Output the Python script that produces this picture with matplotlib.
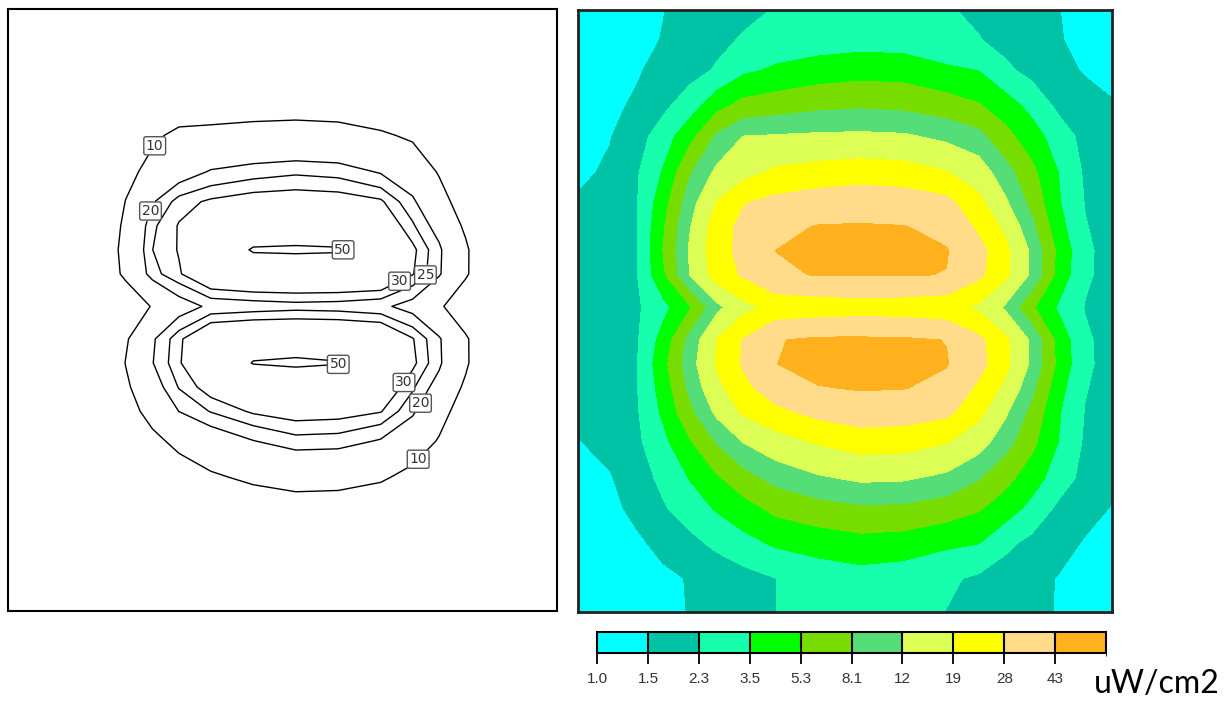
import numpy as np
import matplotlib.pyplot as plt
from matplotlib.colors import ListedColormap, BoundaryNorm
from matplotlib.cm import ScalarMappable

# node positions across the room, as fractions of the map (y counted from the top)
x_pos = [0.0, 0.06, 0.11, 0.16, 0.21, 0.26, 0.31, 0.37, 0.45, 0.53,
         0.61, 0.69, 0.75, 0.80, 0.85, 0.90, 0.95, 1.0]
y_pos = [0.0, 0.05, 0.10, 0.16, 0.21, 0.27, 0.32, 0.36, 0.40, 0.44, 0.494,
         0.548, 0.588, 0.628, 0.668, 0.718, 0.778, 0.828, 0.888, 0.944, 1.0]

# irradiance (uW/cm2), one row per y_pos
irradiance = [
    [1.18, 1.28, 1.38, 1.49, 1.67, 1.86, 2.07, 2.35, 2.66, 2.84, 2.72, 2.40, 2.11, 1.90, 1.70, 1.51, 1.36, 1.22],
    [1.20, 1.30, 1.39, 1.52, 1.76, 2.07, 2.40, 2.72, 2.84, 2.96, 2.90, 2.66, 2.35, 2.02, 1.78, 1.53, 1.38, 1.25],
    [1.25, 1.36, 1.45, 1.67, 1.98, 2.40, 3.22, 3.72, 4.22, 4.49, 4.40, 3.72, 3.47, 2.50, 2.02, 1.70, 1.44, 1.28],
    [1.36, 1.41, 1.57, 2.11, 2.90, 4.68, 6.15, 6.69, 7.44, 7.76, 7.44, 6.55, 5.53, 4.31, 3.09, 2.11, 1.78, 1.57],
    [1.38, 1.47, 1.94, 2.84, 4.68, 8.59, 12.1, 12.45, 12.86, 13.03, 12.68, 10.88, 9.11, 6.02, 4.22, 2.84, 2.02, 1.70],
    [1.38, 1.60, 2.20, 3.65, 7.76, 13.15, 16.55, 20.53, 22.62, 23.98, 23.06, 19.37, 15.10, 9.48, 5.89, 3.48, 2.16, 1.78],
    [1.57, 1.86, 2.25, 4.49, 10.25, 19.37, 27.46, 31.17, 33.96, 34.70, 33.96, 31.17, 21.34, 12.86, 7.13, 3.65, 2.25, 1.86],
    [1.70, 1.98, 2.25, 5.08, 11.77, 23.98, 30.51, 38.63, 43.91, 44.47, 43.54, 38.63, 25.91, 17.33, 8.94, 4.05, 2.35, 1.94],
    [1.74, 1.98, 2.25, 5.41, 12.86, 24.93, 30.51, 43.10, 50.85, 51.28, 50.85, 43.91, 31.85, 21.34, 11.09, 4.78, 2.50, 1.94],
    [1.78, 2.02, 2.25, 4.98, 12.10, 23.06, 29.23, 40.32, 43.91, 43.91, 43.91, 42.63, 30.51, 20.94, 11.09, 4.58, 2.45, 1.98],
    [1.82, 1.98, 2.16, 3.09, 5.08, 10.66, 16.94, 21.34, 22.19, 23.06, 22.62, 21.34, 17.73, 11.31, 5.65, 3.29, 2.25, 1.94],
    [1.78, 1.98, 2.20, 4.13, 9.30, 19.15, 28.61, 42.09, 45.79, 45.79, 45.22, 42.63, 30.51, 20.94, 11.09, 4.58, 2.45, 1.98],
    [1.74, 1.98, 2.25, 4.68, 10.25, 19.75, 29.23, 42.63, 50.42, 51.28, 50.42, 43.91, 31.85, 21.34, 11.09, 4.78, 2.50, 1.94],
    [1.70, 1.94, 2.25, 4.22, 8.94, 16.94, 25.42, 33.96, 42.09, 44.28, 43.54, 38.63, 25.91, 17.33, 8.94, 4.05, 2.35, 1.94],
    [1.67, 1.90, 2.20, 3.80, 7.29, 13.15, 20.14, 25.42, 31.17, 33.96, 33.24, 30.51, 21.34, 12.86, 7.13, 3.65, 2.25, 1.86],
    [1.47, 1.70, 2.11, 3.15, 5.08, 8.26, 12.1, 15.81, 19.75, 23.06, 22.62, 19.37, 14.42, 9.48, 5.89, 3.48, 2.16, 1.74],
    [1.33, 1.45, 1.90, 2.55, 3.57, 4.98, 6.84, 9.11, 11.31, 12.86, 12.56, 10.88, 8.26, 6.02, 4.22, 2.84, 2.02, 1.60],
    [1.28, 1.38, 1.63, 2.20, 2.84, 3.65, 4.49, 5.89, 6.84, 7.60, 7.44, 6.55, 5.53, 4.31, 3.09, 2.11, 1.70, 1.47],
    [1.22, 1.32, 1.41, 1.63, 2.02, 2.50, 3.02, 3.65, 4.13, 4.49, 4.31, 3.72, 3.47, 2.50, 2.02, 1.70, 1.44, 1.28],
    [1.18, 1.25, 1.34, 1.41, 1.53, 1.74, 1.98, 2.29, 2.72, 2.96, 2.78, 2.45, 2.16, 1.90, 1.67, 1.47, 1.33, 1.22],
    [1.15, 1.22, 1.30, 1.39, 1.52, 1.70, 1.94, 2.29, 2.61, 2.78, 2.66, 2.28, 2.02, 1.82, 1.63, 1.47, 1.33, 1.20],
]

fill_levels = [1.0, 1.5, 2.3, 3.5, 5.3, 8.1, 12, 19, 28, 43]
fill_top = 100
fill_colors = ['#00FFFF', '#00C3A6', '#17FFAD', '#00FF00', '#77DD00',
               '#55DD77', '#DDFF55', '#FFFF00', '#FFDB8A', '#FFB21E']
tick_labels = ['1.0', '1.5', '2.3', '3.5', '5.3', '8.1', '12', '19', '28', '43']
line_levels = [10, 20, 25, 30, 50]
unit_label = 'uW/cm2'

# where the boxed labels sit on the line plot
label_spots = [(0.278, 0.239), (0.245, 0.332), (0.625, 0.409), (0.770, 0.437),
               (0.728, 0.457), (0.613, 0.596), (0.741, 0.625), (0.771, 0.658),
               (0.765, 0.752)]


def main():
    X, Y = np.meshgrid(x_pos, y_pos)
    logZ = np.log(np.array(irradiance))

    fig = plt.figure(figsize=(12.29, 7.04), dpi=100)

    # left: isolines
    ax1 = fig.add_axes([0.0065, 0.1321, 0.4467, 0.8551])
    cs = ax1.contour(X, Y, logZ, levels=np.log(line_levels), colors='black',
                     linewidths=1.0)
    labels = ax1.clabel(cs, inline=True, inline_spacing=2, fontsize=10,
                        manual=label_spots, fmt=lambda v: f"{np.exp(v):.0f}")
    for t in labels:
        t.set_rotation(0)
        t.set_color('#333333')
        t.set_bbox(dict(boxstyle='round,pad=0.15', fc='white', ec='#555555', lw=1.0))
    ax1.set_xlim(-0.012, 1.022)
    ax1.set_ylim(1, 0)
    ax1.set_xticks([])
    ax1.set_yticks([])
    for s in ax1.spines.values():
        s.set_linewidth(1.5)

    # right: filled bands
    ax2 = fig.add_axes([0.4703, 0.1307, 0.4345, 0.8551])
    ax2.contourf(X, Y, logZ, levels=np.log(fill_levels + [fill_top]),
                 colors=fill_colors)
    ax2.set_xlim(0, 1)
    ax2.set_ylim(1, 0)
    ax2.set_xticks([])
    ax2.set_yticks([])
    for s in ax2.spines.values():
        s.set_linewidth(2)
        s.set_color('#222222')

    # colour bar
    cax = fig.add_axes([0.4858, 0.0724, 0.4142, 0.0298])
    sm = ScalarMappable(norm=BoundaryNorm(fill_levels + [fill_top], len(fill_colors)),
                        cmap=ListedColormap(fill_colors))
    cb = fig.colorbar(sm, cax=cax, orientation='horizontal', spacing='uniform',
                      ticks=fill_levels, drawedges=True)
    cb.set_ticklabels(tick_labels)
    cb.outline.set_linewidth(1.5)
    cb.dividers.set_linewidth(1.5)
    cax.tick_params(direction='out', length=8, width=1.3, pad=6,
                    labelsize=11, labelcolor='#333333')
    for t in cax.get_xticklabels():
        t.set_fontfamily('Liberation Sans')

    fig.text(0.9415, 0.016, unit_label, fontsize=23, family='Lato',
             ha='center', va='baseline', color='black')

    fig.savefig('out.png', dpi=100)


if __name__ == "__main__":
    main()
